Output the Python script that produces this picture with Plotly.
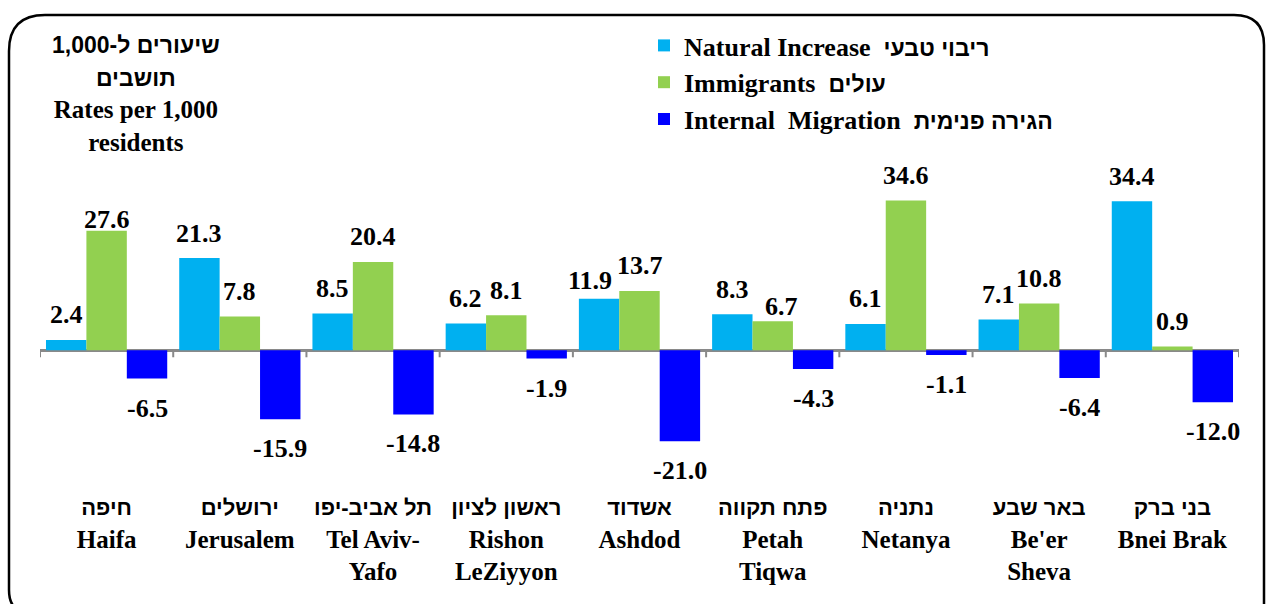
import plotly.graph_objects as go

# ---------------- data ----------------
cities_he = ["חיפה", "ירושלים", "תל אביב-יפו", "ראשון לציון", "אשדוד",
             "פתח תקווה", "נתניה", "באר שבע", "בני ברק"]
cities_en = ["Haifa", "Jerusalem", "Tel Aviv-<br>Yafo", "Rishon<br>LeZiyyon", "Ashdod",
             "Petah<br>Tiqwa", "Netanya", "Be'er<br>Sheva", "Bnei Brak"]
natural_increase = [2.4, 21.3, 8.5, 6.2, 11.9, 8.3, 6.1, 7.1, 34.4]
immigrants = [27.6, 7.8, 20.4, 8.1, 13.7, 6.7, 34.6, 10.8, 0.9]
internal_migration = [-6.5, -15.9, -14.8, -1.9, -21.0, -4.3, -1.1, -6.4, -12.0]

series_en = ["Natural Increase", "Immigrants", "Internal\u00a0\u00a0Migration"]
series_he = ["ריבוי טבעי", "עולים", "הגירה פנימית"]
series_values = [natural_increase, immigrants, internal_migration]
series_colors = ["#00B0F0", "#92D050", "#0000FF"]

title_he = ["שיעורים ל-1,000", "תושבים"]
title_en = ["Rates per 1,000", "residents"]

# label nudges (pixels) for a few value labels: (city index, series index) -> (dx, dy)
label_nudge = {(0, 1): (0, -14), (4, 0): (-9, -7), (5, 1): (9, -10)}

# ---------------- layout constants ----------------
W, H = 1266, 604
ML, MR, MT, MB = 40, 27, 177, 115
PW, PH = W - ML - MR, H - MT - MB
Y_RANGE = [-32, 40]
BARGAP = 0.09
FONT = "Liberation Serif"
HEB_FONT = "Liberation Sans"


def heb(s, size):
    return f"<span style='font-family:{HEB_FONT};font-size:{size}px'>{s}</span>"


def fx(px):
    return (px - ML) / PW


def fy(py):
    return (H - MB - py) / PH


fig = go.Figure()
n = len(cities_en)
xs = list(range(n))
for k, (en, he, vals, col) in enumerate(zip(series_en, series_he, series_values, series_colors)):
    fig.add_trace(go.Bar(
        x=xs, y=vals, name=f"<b>{en}\u00a0\u00a0{heb(he, 23)}</b>",
        marker=dict(color=col, line=dict(width=0)),
        legendgroup=f"g{k}", hoverinfo="skip",
    ))

# value labels
bw = (1 - BARGAP) / 3
annotations = []
for k, vals in enumerate(series_values):
    for i, v in enumerate(vals):
        dx, dy = label_nudge.get((i, k), (0, 0))
        ys = 25 if v >= 0 else -29.5
        annotations.append(dict(
            x=i + (k - 1) * bw, y=v, xref="x", yref="y",
            text=f"<b>{v:.1f}</b>", showarrow=False,
            xshift=dx, yshift=ys + (dy if v >= 0 else -dy),
            font=dict(size=26, family=FONT, color="black"),
        ))

title_text = "<br>".join([heb(t, 23) for t in title_he] + title_en)
annotations.append(dict(
    x=fx(136), y=fy(30), xref="paper", yref="paper", xanchor="center", yanchor="top",
    text=f"<b>{title_text}</b>", showarrow=False, align="center",
    font=dict(size=25, family=FONT, color="black"),
))

# tick marks on the zero line at category boundaries
shapes = []
for b in range(n + 1):
    shapes.append(dict(type="line", xref="x", yref="y", x0=b - 0.5, x1=b - 0.5,
                       y0=0, y1=-1.6, line=dict(color="#898989", width=2)))

# rounded outer border
x0, x1, y0, y1 = 9, 1264, 15, 614
r1, r2, r3 = 36, 30, 24
path = (f"M {fx(x0)},{fy(y0 + r1)} Q {fx(x0)},{fy(y0)} {fx(x0 + r1)},{fy(y0)} "
        f"L {fx(x1 - r2)},{fy(y0)} Q {fx(x1)},{fy(y0)} {fx(x1)},{fy(y0 + r2)} "
        f"L {fx(x1)},{fy(y1)} L {fx(x0 + r3)},{fy(y1)} "
        f"Q {fx(x0)},{fy(y1)} {fx(x0)},{fy(y1 - r3)} Z")
shapes.append(dict(type="path", xref="paper", yref="paper", path=path,
                   line=dict(color="black", width=2.5), layer="below"))

ticktext = [f"<b>{heb(h, 22)}<br>{e}</b>" for h, e in zip(cities_he, cities_en)]

fig.update_layout(
    width=W, height=H,
    margin=dict(l=ML, r=MR, t=MT, b=MB, autoexpand=False),
    paper_bgcolor="white", plot_bgcolor="white",
    barmode="group", bargap=BARGAP, bargroupgap=0,
    font=dict(family=FONT, color="black", size=25),
    xaxis=dict(range=[-0.5, n - 0.5], tickmode="array", tickvals=xs, ticktext=ticktext,
               showline=False, showgrid=False, zeroline=False, ticks="",
               tickfont=dict(size=25, family=FONT, color="black"), fixedrange=True),
    yaxis=dict(range=Y_RANGE, showgrid=False, showticklabels=False, ticks="",
               showline=False, zeroline=True, zerolinecolor="#898989", zerolinewidth=3,
               fixedrange=True),
    legend=dict(x=fx(644), y=fy(22), xanchor="left", yanchor="top",
                font=dict(size=26, family=FONT, color="black"),
                bgcolor="rgba(0,0,0,0)", tracegroupgap=0, itemclick=False,
                itemdoubleclick=False),
    showlegend=True,
    annotations=annotations,
    shapes=shapes,
)

fig.write_html("out.html", config={"displayModeBar": False},
               post_script="document.body.style.margin='0';document.body.style.overflow='hidden';")
